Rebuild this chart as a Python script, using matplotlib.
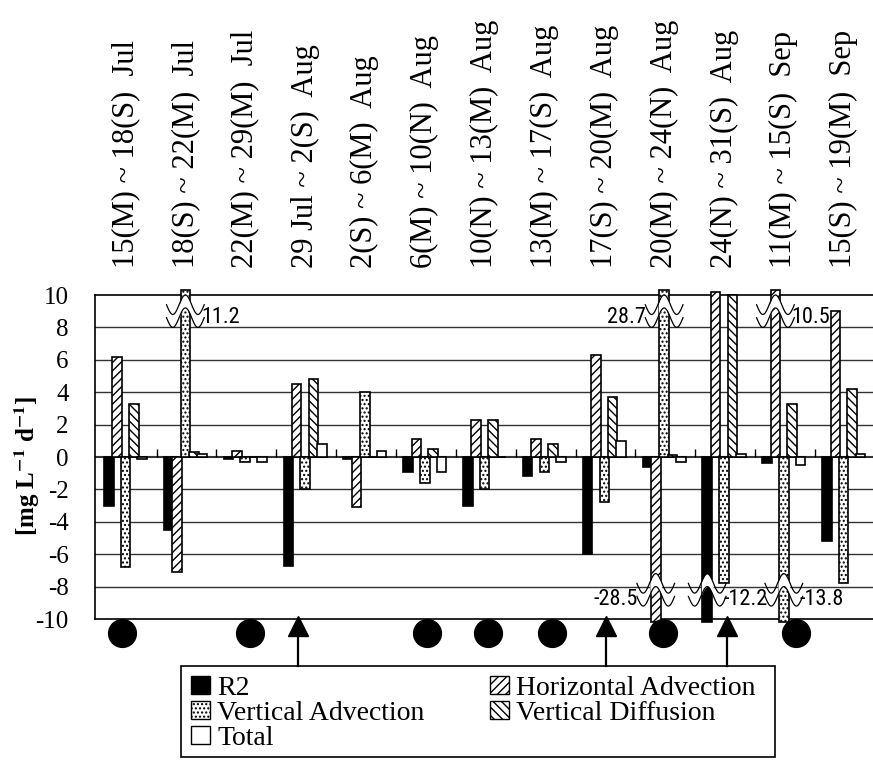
import numpy as np
import matplotlib
matplotlib.use("Agg")
import matplotlib.pyplot as plt
from matplotlib.patches import Patch, Rectangle
from matplotlib.transforms import blended_transform_factory

plt.rcParams['font.family'] = ['Liberation Serif', 'DejaVu Serif']
plt.rcParams['mathtext.fontset'] = 'stix'
plt.rcParams['axes.unicode_minus'] = False
plt.rcParams['hatch.linewidth'] = 1.0

# 观测期间（上方标签）
periods = ["15(M) ~ 18(S)  Jul", "18(S) ~ 22(M)  Jul", "22(M) ~ 29(M)  Jul",
           "29 Jul ~ 2(S)  Aug", "2(S) ~ 6(M)  Aug", "6(M) ~ 10(N)  Aug",
           "10(N) ~ 13(M)  Aug", "13(M) ~ 17(S)  Aug", "17(S) ~ 20(M)  Aug",
           "20(M) ~ 24(N)  Aug", "24(N) ~ 31(S)  Aug", "11(M) ~ 15(S)  Sep",
           "15(S) ~ 19(M)  Sep"]

# 各项收支 [mg L-1 d-1]
r2 = [-3.0, -4.5, -0.1, -6.7, -0.1, -0.9, -3.0, -1.2, -6.0, -0.6, -12.2, -0.4, -5.2]
horiz_adv = [6.2, -7.1, 0.4, 4.5, -3.1, 1.1, 2.3, 1.1, 6.3, -28.5, 10.2, 10.5, 9.0]
vert_adv = [-6.8, 11.2, -0.3, -2.0, 4.0, -1.6, -2.0, -0.9, -2.8, 28.7, -7.8, -13.8, -7.8]
vert_diff = [3.3, 0.3, 0.0, 4.8, 0.0, 0.5, 2.3, 0.8, 3.7, 0.1, 10.0, 3.3, 4.2]
total = [-0.1, 0.2, -0.3, 0.8, 0.4, -0.9, 0.0, -0.3, 1.0, -0.3, 0.2, -0.5, 0.2]

# 事件（圆点 / 箭头）在横轴上的位置
circle_pos = [0.42, 2.56, 5.51, 6.53, 7.60, 9.46, 11.69]
arrow_pos = [3.36, 8.51, 10.53]

series = [
    ("R2", r2, dict(facecolor='black', hatch=None)),
    ("Horizontal Advection", horiz_adv, dict(facecolor='white', hatch='////')),
    ("Vertical Advection", vert_adv, dict(facecolor='white', hatch='....')),
    ("Vertical Diffusion", vert_diff, dict(facecolor='white', hatch='\\\\\\\\')),
    ("Total", total, dict(facecolor='white', hatch=None)),
]

top_cap, bot_cap = 10.3, -10.2
n = len(periods)
groups = np.arange(n)
bw, step = 0.16, 0.14
num_font = ['Roboto Condensed', 'Liberation Sans Narrow', 'DejaVu Sans']

fig = plt.figure(figsize=(8.73, 7.6), dpi=100)
ax = fig.add_axes([95/873, 1 - 619/760, 778/873, 324/760])
ax.set_xlim(-0.03, n - 0.03)
ax.set_ylim(-10, 10)

# 网格线和零线
for y in range(-8, 10, 2):
    ax.axhline(y, color='#333333', lw=1.0 if y else 1.5, zorder=1)
ax.vlines(np.arange(1, n), 0, 0.5, color='black', lw=1.0, zorder=1)


def draw_break(xc, yu, yl, a=0.6, period=0.42):
    xs = np.linspace(xc - 0.75 * period, xc + 0.75 * period, 120)
    wave = a * np.cos(2 * np.pi * (xs - xc) / period)
    inside = np.abs(xs - xc) <= bw / 2 + 0.02
    ax.fill_between(xs[inside], yl + wave[inside], yu + wave[inside],
                    color='white', lw=0, zorder=4, clip_on=False)
    ax.plot(xs, yu + wave, color='black', lw=0.9, zorder=5, clip_on=False)
    ax.plot(xs, yl + wave, color='black', lw=0.9, zorder=5, clip_on=False)


handles = {}
for k, (name, vals, style) in enumerate(series):
    vals = np.array(vals)
    xs = groups + 0.48 + (k - 2) * step
    ax.bar(xs, np.clip(vals, bot_cap, top_cap), width=bw, edgecolor='black',
           lw=1.2, zorder=3, clip_on=False, **style)
    handles[name] = Patch(edgecolor='black', lw=1.0, **style)
    for x, v in zip(xs, vals):
        if v > top_cap:
            draw_break(x, 9.4, 8.6)
            ly = 8.6
        elif v < bot_cap:
            draw_break(x, -7.8, -8.6)
            ly = -8.8
        else:
            continue
        # 20(M)~24(N) Aug 的数值写在左侧
        if 9 < x < 10:
            ax.text(x - 0.3, ly, f"{v:.1f}", ha='right', va='center', fontsize=16,
                    family=num_font, zorder=6)
        else:
            ax.text(x + 0.27, ly, f"{v:.1f}", ha='left', va='center', fontsize=16,
                    family=num_font, zorder=6)

# 下方事件标记
trans = blended_transform_factory(ax.transData, ax.transAxes)
ax.plot(circle_pos, [-0.043] * len(circle_pos), 'o', color='black', ms=20,
        transform=trans, clip_on=False, zorder=7)
ax.plot(arrow_pos, [-0.022] * len(arrow_pos), '^', color='black', ms=15,
        transform=trans, clip_on=False, zorder=7)
for x in arrow_pos:
    ax.plot([x, x], [-0.05, -0.145], color='black', lw=1.6,
            transform=trans, clip_on=False, zorder=7)

# 上方期间标签
for i, lab in enumerate(periods):
    ax.text(i + 0.48, 1.083, lab, rotation=90, ha='center', va='bottom',
            fontsize=22, transform=trans)

ax.set_xticks([])
ax.set_yticks(range(-10, 11, 2))
ax.tick_params(axis='y', length=0, pad=19, labelsize=18)
ax.spines['right'].set_visible(False)
for s in ['left', 'top', 'bottom']:
    ax.spines[s].set_linewidth(1.2)

fig.text(27/873, 1 - 466/760, r'[mg L$^{\mathbf{-1}}$ d$^{\mathbf{-1}}$]',
         rotation=90, ha='center', va='center', fontsize=18, fontweight='bold')

# 图例
fig.add_artist(Rectangle((181/873, 3/760), 594/873, 91/760, transform=fig.transFigure,
                         fill=False, edgecolor='black', lw=1.2))
leg_kw = dict(loc='upper left', frameon=False, fontsize=20, handlelength=0.7,
              handleheight=0.6, handletextpad=0.25, labelspacing=0.0,
              borderpad=0, borderaxespad=0)
fig.legend([handles[k] for k in ["R2", "Vertical Advection", "Total"]],
           ["R2", "Vertical Advection", "Total"],
           bbox_to_anchor=(191/873, 1 - 676/760), **leg_kw)
fig.legend([handles[k] for k in ["Horizontal Advection", "Vertical Diffusion"]],
           ["Horizontal Advection", "Vertical Diffusion"],
           bbox_to_anchor=(490/873, 1 - 676/760), **leg_kw)

fig.savefig("out.png", dpi=100)
